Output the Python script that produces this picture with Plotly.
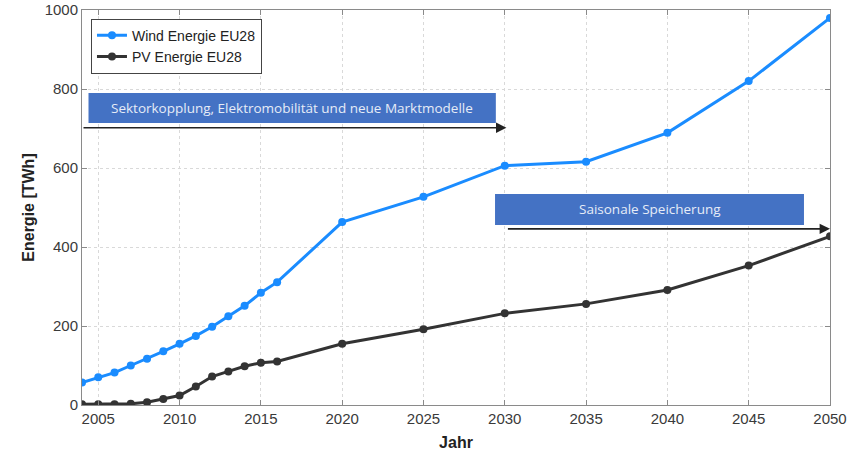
import plotly.graph_objects as go

years_wind = [2004, 2005, 2006, 2007, 2008, 2009, 2010, 2011, 2012, 2013, 2014, 2015, 2016,
              2020, 2025, 2030, 2035, 2040, 2045, 2050]
wind = [57, 70, 82, 100, 117, 136, 155, 175, 198, 225, 251, 284, 311,
        463, 527, 606, 616, 689, 820, 980]
years_pv = years_wind
pv = [2, 2, 2, 3, 7, 15, 24, 47, 72, 85, 98, 107, 110,
      155, 192, 232, 256, 291, 353, 427]

x_ticks = [2005, 2010, 2015, 2020, 2025, 2030, 2035, 2040, 2045, 2050]
y_ticks = [0, 200, 400, 600, 800, 1000]

box1_text = "Sektorkopplung, Elektromobilität und neue Marktmodelle"
box2_text = "Saisonale Speicherung"

FONT = "Liberation Sans, Arial, sans-serif"
TXT = "#3a3a3a"
AX = "#8a8a8a"

fig = go.Figure()
fig.add_trace(go.Scatter(x=years_wind, y=wind, mode="lines+markers", name="Wind Energie EU28",
                         line=dict(color="#1a8cff", width=3), marker=dict(size=8, color="#1a8cff")))
fig.add_trace(go.Scatter(x=years_pv, y=pv, mode="lines+markers", name="PV Energie EU28",
                         line=dict(color="#333333", width=3), marker=dict(size=8, color="#333333")))

box_fill = "#4472c4"
fig.add_shape(type="rect", xref="x", yref="y", x0=2004.4, x1=2029.45, y0=714, y1=790,
              fillcolor=box_fill, line=dict(color=box_fill, width=0), layer="above")
fig.add_shape(type="rect", xref="x", yref="y", x0=2029.4, x1=2048.4, y0=456, y1=534,
              fillcolor=box_fill, line=dict(color=box_fill, width=0), layer="above")
fig.add_annotation(x=(2004.4 + 2029.45) / 2, y=752, xref="x", yref="y", text=box1_text,
                   showarrow=False, font=dict(family="Open Sans, Noto Sans, sans-serif", size=13.5, color="#e6ecf7"))
fig.add_annotation(x=(2029.4 + 2048.4) / 2, y=495, xref="x", yref="y", text=box2_text,
                   showarrow=False, font=dict(family="Open Sans, Noto Sans, sans-serif", size=13.5, color="#e6ecf7"))

# arrows
fig.add_annotation(x=2030.1, y=702, ax=2004, ay=702, xref="x", yref="y", axref="x", ayref="y",
                   text="", showarrow=True, arrowhead=2, arrowsize=1.3, arrowwidth=1.6, arrowcolor="#222222")
fig.add_annotation(x=2050, y=446, ax=2030.1, ay=446, xref="x", yref="y", axref="x", ayref="y",
                   text="", showarrow=True, arrowhead=2, arrowsize=1.3, arrowwidth=1.6, arrowcolor="#222222")

fig.update_layout(
    width=866, height=456,
    margin=dict(l=82, r=36, t=10, b=51, autoexpand=False),
    paper_bgcolor="white", plot_bgcolor="white",
    font=dict(family=FONT, color=TXT),
    legend=dict(x=0.012, y=0.978, xanchor="left", yanchor="top",
                bgcolor="white", bordercolor="#444444", borderwidth=1,
                font=dict(size=14, color="#222222"), tracegroupgap=0,
                itemwidth=30),
    showlegend=True,
)
fig.update_xaxes(range=[2004, 2050], tickvals=x_ticks, ticks="inside", ticklen=5, tickcolor=AX,
                 showline=True, linecolor=AX, linewidth=1, mirror="ticks",
                 showgrid=True, gridcolor="#d9d9d9", griddash="dot", gridwidth=1,
                 zeroline=False, tickfont=dict(size=15, color=TXT), automargin=False,
                 title=dict(text="<b>Jahr</b>", font=dict(size=16, color="#222222"), standoff=10))
fig.update_yaxes(range=[0, 1000], tickvals=y_ticks, ticks="inside", ticklen=5, tickcolor=AX,
                 showline=True, linecolor=AX, linewidth=1, mirror="ticks",
                 showgrid=True, gridcolor="#d9d9d9", griddash="dot", gridwidth=1,
                 zeroline=False, tickfont=dict(size=15, color=TXT), automargin=False,
                 title=dict(text="<b>Energie [TWh]</b>", font=dict(size=16, color="#222222"), standoff=6))

fig.write_html("out.html", config={"displayModeBar": False},
               post_script="document.body.style.margin='0';document.body.style.overflow='hidden';")
